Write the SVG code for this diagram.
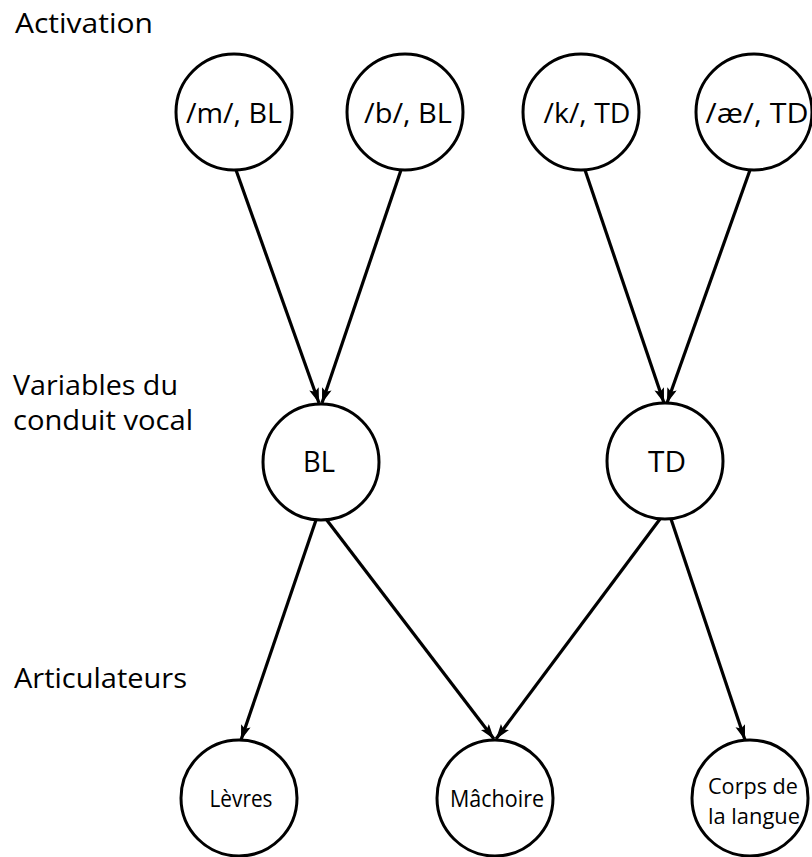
<svg xmlns="http://www.w3.org/2000/svg" width="812" height="857" viewBox="0 0 812 857">
<style>
.node circle{fill:#fff;stroke:#000;stroke-width:3}
text{font-family:"Open Sans","Liberation Sans",Arial,sans-serif;fill:#000}
.lbl{font-size:28px}
.t1{font-size:27px;text-anchor:middle}
.t2{font-size:29px;text-anchor:middle}
.t3{font-size:23px;text-anchor:middle}
.t4{font-size:21px;text-anchor:middle}
.edges line{stroke:#000;stroke-width:3.2;marker-end:url(#arr)}
</style>
<defs>
<marker id="arr" markerUnits="userSpaceOnUse" markerWidth="16" markerHeight="12" refX="15" refY="5" orient="auto">
<path d="M0,0 L15,5 L0,10 L3,5 z" fill="#000"/>
</marker>
</defs>
<rect width="812" height="857" fill="#fff"/>
<g id="labels">
<text class="lbl" x="15" y="33" textLength="138" lengthAdjust="spacingAndGlyphs">Activation</text>
<text class="lbl" x="13" y="395" textLength="165" lengthAdjust="spacingAndGlyphs">Variables du</text>
<text class="lbl" x="13" y="430" textLength="180" lengthAdjust="spacingAndGlyphs">conduit vocal</text>
<text class="lbl" x="14" y="688" textLength="173" lengthAdjust="spacingAndGlyphs">Articulateurs</text>
</g>
<g class="edges" id="connectors">
<line x1="236" y1="170" x2="319" y2="403"/>
<line x1="401" y1="170" x2="322" y2="403"/>
<line x1="585" y1="170" x2="664" y2="403"/>
<line x1="750" y1="170" x2="667" y2="403"/>
<line x1="316" y1="520" x2="241" y2="740"/>
<line x1="326" y1="519" x2="494" y2="739"/>
<line x1="660" y1="519" x2="496" y2="739"/>
<line x1="671" y1="519" x2="745" y2="740"/>
</g>
<g class="node" id="n_m"><circle cx="234" cy="112" r="58"/><text class="t1" x="234" y="123" textLength="96" lengthAdjust="spacingAndGlyphs">/m/, BL</text></g>
<g class="node" id="n_b"><circle cx="405" cy="112" r="58"/><text class="t1" x="408" y="123" textLength="88" lengthAdjust="spacingAndGlyphs">/b/, BL</text></g>
<g class="node" id="n_k"><circle cx="581" cy="112" r="58"/><text class="t1" x="587" y="123" textLength="87" lengthAdjust="spacingAndGlyphs">/k/, TD</text></g>
<g class="node" id="n_ae"><circle cx="754" cy="112" r="58"/><text class="t1" x="757" y="123" textLength="103" lengthAdjust="spacingAndGlyphs">/æ/, TD</text></g>
<g class="node" id="n_BL"><circle cx="321" cy="462" r="58"/><text class="t2" x="319" y="472" textLength="32" lengthAdjust="spacingAndGlyphs">BL</text></g>
<g class="node" id="n_TD"><circle cx="665" cy="461" r="58"/><text class="t2" x="667" y="472" textLength="38" lengthAdjust="spacingAndGlyphs">TD</text></g>
<g class="node" id="n_levres"><circle cx="239" cy="798" r="58"/><text class="t3" x="241" y="807" textLength="63" lengthAdjust="spacingAndGlyphs">Lèvres</text></g>
<g class="node" id="n_machoire"><circle cx="495" cy="798" r="58"/><text class="t3" x="497" y="807" textLength="94" lengthAdjust="spacingAndGlyphs">Mâchoire</text></g>
<g class="node" id="n_corps"><circle cx="750" cy="798" r="58"/><text class="t4" x="753" y="794" textLength="90" lengthAdjust="spacingAndGlyphs">Corps de</text><text class="t4" x="754" y="824" textLength="92" lengthAdjust="spacingAndGlyphs">la langue</text></g>
</svg>
